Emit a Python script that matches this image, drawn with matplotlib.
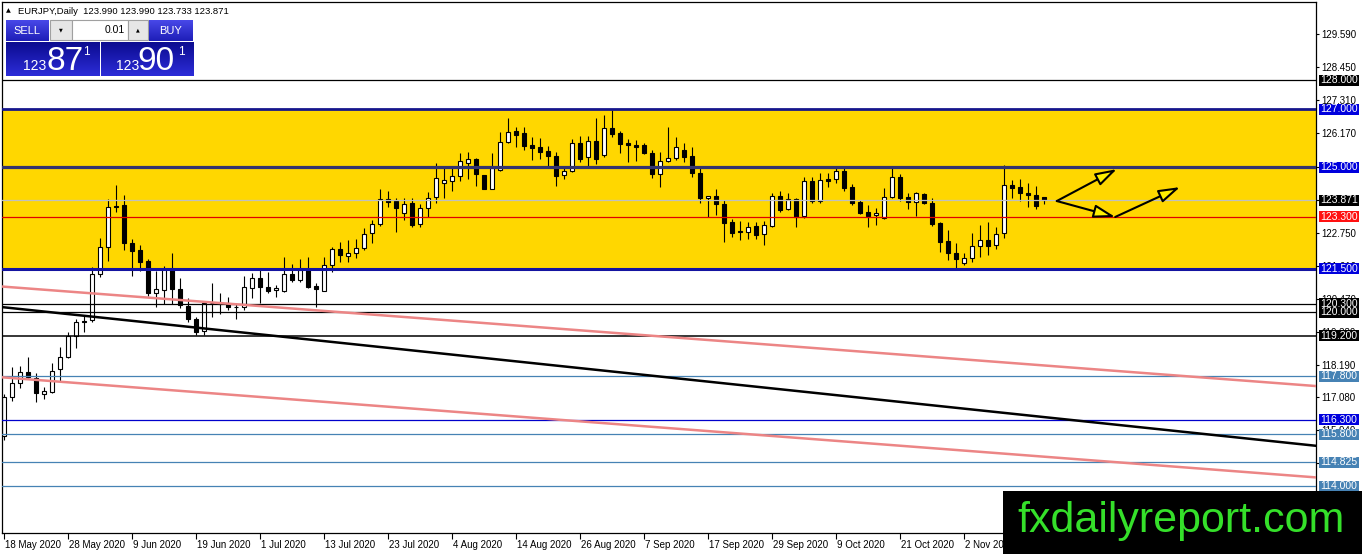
import numpy as np
import matplotlib
matplotlib.use("Agg")
import matplotlib.pyplot as plt
import matplotlib.transforms as mtransforms
from matplotlib.patches import Rectangle
from matplotlib.colors import to_rgb

plt.rcParams["font.family"] = ["Liberation Sans", "DejaVu Sans"]

# ------------------------------------------------------------
# DATA  (EURJPY daily)
# ------------------------------------------------------------
opens = [115.74, 117.08, 117.57, 117.95, 117.74, 117.19, 117.26, 118.05, 118.46, 119.19,
         119.70, 119.74, 121.32, 122.26, 123.67, 123.70, 122.39, 122.15, 121.77, 120.67,
         120.77, 121.50, 120.81, 120.22, 119.77, 119.36, 120.32, 120.29, 120.32, 120.19,
         120.19, 120.84, 121.19, 120.88, 120.77, 120.74, 121.32, 121.12, 121.46, 120.91,
         120.74, 121.63, 122.19, 121.95, 122.05, 122.22, 122.74, 123.05, 123.91, 123.84,
         123.43, 123.77, 123.05, 123.60, 123.98, 124.46, 124.53, 124.70, 125.15, 125.29,
         124.74, 124.26, 124.91, 125.88, 126.26, 126.19, 125.77, 125.70, 125.57, 125.39,
         124.74, 124.88, 125.84, 125.36, 125.91, 125.43, 126.36, 126.19, 125.84, 125.77,
         125.77, 125.50, 124.77, 125.22, 125.32, 125.60, 125.39, 124.81, 123.95, 124.01,
         123.74, 123.12, 122.81, 122.77, 122.98, 122.70, 122.98, 124.01, 123.57, 123.91,
         123.32, 124.53, 123.84, 124.60, 124.60, 124.88, 124.32, 123.81, 123.46, 123.36,
         123.26, 123.98, 124.67, 123.98, 123.81, 124.08, 123.77, 123.08, 122.46, 122.05,
         121.70, 121.88, 122.29, 122.50, 122.32, 122.74, 124.39, 124.32, 124.12, 124.05,
         123.99]
closes = [117.08, 117.57, 117.95, 117.77, 117.22, 117.29, 117.98, 118.46, 119.19, 119.67,
          119.67, 121.32, 122.26, 123.63, 123.63, 122.39, 122.12, 121.74, 120.67, 120.81,
          121.50, 120.81, 120.26, 119.77, 119.32, 120.32, 120.31, 120.28, 120.19, 120.18,
          120.88, 121.19, 120.88, 120.74, 120.84, 121.32, 121.12, 121.46, 120.88, 120.81,
          121.63, 122.19, 121.98, 122.05, 122.22, 122.70, 123.05, 123.91, 123.81, 123.60,
          123.74, 123.01, 123.60, 123.95, 124.63, 124.57, 124.70, 125.22, 125.29, 124.77,
          124.26, 124.98, 125.88, 126.22, 126.12, 125.74, 125.67, 125.53, 125.39, 124.70,
          124.88, 125.84, 125.29, 125.91, 125.29, 126.36, 126.15, 125.81, 125.77, 125.70,
          125.50, 124.77, 125.22, 125.32, 125.70, 125.36, 124.81, 123.95, 124.01, 123.74,
          123.08, 122.74, 122.77, 122.95, 122.67, 123.01, 124.01, 123.53, 123.91, 123.29,
          124.53, 123.84, 124.57, 124.53, 124.88, 124.29, 123.77, 123.43, 123.32, 123.43,
          123.98, 124.67, 123.95, 123.81, 124.12, 123.77, 123.05, 122.43, 122.05, 121.84,
          121.88, 122.29, 122.50, 122.29, 122.70, 124.39, 124.29, 124.12, 124.05, 123.67,
          123.871]
highs = [117.19, 118.12, 118.15, 118.46, 117.91, 117.43, 118.26, 118.81, 119.32, 119.77,
         119.88, 121.57, 122.57, 123.91, 124.39, 124.05, 122.53, 122.32, 121.84, 121.43,
         121.60, 122.05, 121.19, 120.50, 119.84, 120.36, 121.01, 120.67, 120.53, 120.32,
         121.26, 121.36, 121.46, 121.39, 120.95, 121.91, 121.67, 121.84, 121.91, 121.01,
         121.91, 122.26, 122.43, 122.50, 122.53, 122.91, 123.19, 124.26, 124.19, 123.95,
         123.95, 123.95, 123.74, 124.15, 125.15, 124.98, 124.98, 125.50, 125.53, 125.32,
         124.74, 125.50, 126.22, 126.70, 126.39, 126.39, 126.05, 126.01, 125.74, 125.53,
         125.01, 125.98, 126.08, 126.08, 126.70, 126.81, 126.98, 126.26, 125.98, 125.95,
         125.84, 125.60, 125.53, 126.39, 126.05, 125.84, 125.70, 124.98, 124.01, 124.26,
         123.88, 123.22, 123.15, 123.12, 123.12, 123.15, 124.12, 124.19, 124.12, 123.95,
         124.67, 124.67, 124.81, 124.81, 125.05, 124.98, 124.43, 123.88, 123.70, 123.60,
         124.29, 124.98, 124.77, 124.12, 124.15, 124.12, 123.95, 123.12, 122.84, 122.39,
         122.05, 122.74, 123.01, 123.12, 122.95, 125.08, 124.57, 124.60, 124.46, 124.36,
         123.99]
lows = [115.60, 116.95, 117.39, 117.70, 116.91, 117.01, 117.22, 117.63, 118.43, 118.77,
        119.32, 119.67, 121.22, 121.77, 123.46, 122.15, 121.26, 121.43, 120.57, 120.19,
        120.29, 120.29, 120.15, 119.67, 119.22, 119.22, 119.84, 119.95, 120.08, 119.77,
        120.08, 120.50, 120.32, 120.67, 120.53, 120.70, 121.05, 121.05, 120.84, 120.19,
        120.74, 121.39, 121.74, 121.74, 121.88, 122.15, 122.39, 122.98, 123.63, 122.77,
        123.19, 122.95, 122.95, 123.29, 123.77, 123.95, 124.19, 124.53, 124.60, 124.36,
        124.26, 124.26, 124.88, 125.84, 125.70, 125.60, 125.26, 125.29, 125.01, 124.36,
        124.60, 124.84, 125.19, 125.05, 125.12, 125.36, 126.05, 125.50, 125.19, 125.22,
        125.46, 124.63, 124.32, 125.19, 125.26, 125.19, 124.67, 123.77, 123.29, 123.36,
        122.43, 122.60, 122.50, 122.53, 122.53, 122.32, 122.95, 123.46, 123.53, 122.95,
        123.26, 123.77, 123.77, 124.32, 124.46, 124.19, 123.70, 123.39, 122.95, 123.01,
        123.22, 123.95, 123.84, 123.57, 123.32, 123.74, 122.98, 122.08, 121.81, 121.53,
        121.63, 121.74, 121.91, 121.98, 122.19, 122.57, 123.95, 123.84, 123.63, 123.57,
        123.733]

date_labels = ["18 May 2020", "28 May 2020", "9 Jun 2020", "19 Jun 2020", "1 Jul 2020",
               "13 Jul 2020", "23 Jul 2020", "4 Aug 2020", "14 Aug 2020", "26 Aug 2020",
               "7 Sep 2020", "17 Sep 2020", "29 Sep 2020", "9 Oct 2020", "21 Oct 2020",
               "2 Nov 2020", "12 Nov 2020"]
bars_per_label = 8

price_ticks = [129.59, 128.45, 127.31, 126.17, 125.03, 123.89, 122.75, 121.61,
               120.47, 119.33, 118.19, 117.08, 115.94, 114.80]

# horizontal levels: value, line colour, line width, label colour
levels       = [128.0, 127.0, 125.0, 123.871, 123.3, 121.5, 120.3, 120.0, 119.2,
                117.8, 116.3, 115.8, 114.825, 114.0]
level_colors = ["black", "#16168c", "#34346e", "#c0c0c0", "#e00000", "#1414a0",
                "black", "black", "black", "#4682b4", "#0000cc", "#4682b4", "#4682b4", "#4682b4"]
level_widths = [0.9, 2.0, 2.3, 0.9, 0.9, 2.2, 0.9, 0.9, 1.1, 0.9, 0.9, 0.9, 0.9, 0.9]
label_colors = ["black", "#0000dd", "#0000dd", "black", "#ff1010", "#0000dd",
                "black", "black", "black", "#4682b4", "#0000dd", "#4682b4", "#4682b4", "#4682b4"]

zone_low, zone_high = 121.5, 127.0

# trend lines: (bar, price) endpoints
black_trend = ([-0.16, 164.0], [120.18, 115.40])
pink_upper  = ([-0.16, 164.0], [120.89, 117.46])
pink_lower  = ([-0.16, 164.0], [117.76, 114.31])

# projection arrows: start -> end (bar, price)
arrows = [((131.6, 123.84), (139.1, 124.94)),
          ((131.6, 123.84), (138.9, 123.29)),
          ((138.9, 123.29), (147.0, 124.32))]

header = "EURJPY,Daily  123.990 123.990 123.733 123.871"

# ------------------------------------------------------------
# FIGURE
# ------------------------------------------------------------
W, H = 1362, 554
fig = plt.figure(figsize=(W / 100, H / 100), dpi=100)
fig.patch.set_facecolor("white")

def fx(px):
    return px / W

def fy(py):
    return 1 - py / H

AX_L, AX_T, AX_R, AX_B = 2, 2, 1316, 533
ax = fig.add_axes([fx(AX_L), fy(AX_B), (AX_R - AX_L) / W, (AX_B - AX_T) / H])
ax.set_xlim(-0.25, 164.0)
ax.set_ylim(112.393, 130.703)
y_per_px = (130.703 - 112.393) / (AX_B - AX_T)
axw = AX_R - AX_L

o = np.array(opens); c = np.array(closes)
h = np.array(highs); l = np.array(lows)
x = np.arange(len(o))
up = c > o

ax.axhspan(zone_low, zone_high, color="#ffd700", zorder=0, lw=0)

ax.vlines(x, l, h, color="black", lw=0.8, zorder=2)
body_h = np.maximum(np.abs(c - o), 0.004)
ax.bar(x, body_h, bottom=np.minimum(o, c), width=0.56,
       color=np.where(up, "white", "black"), edgecolor="black", linewidth=0.8, zorder=2.5)

for lvl, col, lw in zip(levels, level_colors, level_widths):
    ax.axhline(lvl, color=col, lw=lw, zorder=3)

ax.plot(*pink_upper, color="#ec8585", lw=1.8, zorder=3.2)
ax.plot(*pink_lower, color="#ec8585", lw=1.8, zorder=3.2)
ax.plot(*black_trend, color="black", lw=1.8, zorder=3.3)

for start, end in arrows:
    ax.annotate("", xy=end, xytext=start,
                arrowprops=dict(arrowstyle="-|>,head_length=1.3,head_width=0.4",
                                facecolor="#fff000", edgecolor="black", linewidth=1.5,
                                shrinkA=0, shrinkB=0), zorder=4)

# right price axis
ax.yaxis.tick_right()
ax.set_yticks(price_ticks)
ax.set_yticklabels([f"{t:.3f}" for t in price_ticks])
ax.tick_params(axis="y", length=2.2, width=0.8, pad=1.4, labelsize=7, colors="black")

# level price tags drawn over the axis labels
blend = mtransforms.blended_transform_factory(ax.transAxes, ax.transData)
for lvl, col in zip(levels, label_colors):
    ax.add_patch(Rectangle((1 + 2.5 / axw, lvl - 5.5 * y_per_px), 40 / axw, 11 * y_per_px,
                           transform=blend, fc=col, ec="none", clip_on=False, zorder=9))
    ax.text(1 + 4 / axw, lvl, f"{lvl:.3f}", transform=blend, ha="left", va="center",
            fontsize=7.5, color="white", clip_on=False, zorder=10)

# date axis
ax.set_xticks(np.arange(len(date_labels)) * bars_per_label)
ax.set_xticklabels(date_labels)
ax.tick_params(axis="x", length=4, width=0.8, pad=1, labelsize=7)
shift = mtransforms.ScaledTranslation(1 / 100, 0, fig.dpi_scale_trans)
for lab in ax.get_xticklabels():
    lab.set_ha("left")
    lab.set_transform(lab.get_transform() + shift)

for sp in ax.spines.values():
    sp.set_linewidth(0.9)
    sp.set_color("black")

# ------------------------------------------------------------
# TOP-LEFT HEADER + ONE-CLICK TRADING PANEL
# ------------------------------------------------------------
fig.text(fx(6), fy(11), "▲", fontsize=4.5, va="center", zorder=10,
         family=["DejaVu Sans"])
fig.text(fx(18), fy(11), header, fontsize=6.8, va="center", zorder=10)

def grad_box(x0, y0, x1, y1, top, bottom):
    a = fig.add_axes([fx(x0), fy(y1), (x1 - x0) / W, (y1 - y0) / H], zorder=6)
    t = np.array(to_rgb(top)); b = np.array(to_rgb(bottom))
    g = np.linspace(0, 1, 40)[:, None, None]
    a.imshow(t * (1 - g) + b * g, aspect="auto", extent=(0, 1, 0, 1), origin="upper")
    a.set_axis_off()
    return a

def flat_box(x0, y0, x1, y1, fc, ec):
    fig.add_artist(Rectangle((fx(x0), fy(y1)), (x1 - x0) / W, (y1 - y0) / H,
                             transform=fig.transFigure, fc=fc, ec=ec, lw=0.8, zorder=6))

grad_box(6, 20, 48, 41, "#4848e8", "#1e1eb8")
grad_box(149, 20, 193, 41, "#4848e8", "#1e1eb8")
grad_box(6, 42, 99, 76, "#0c0c90", "#2c2cd8")
grad_box(101, 42, 193, 76, "#0c0c90", "#2c2cd8")
flat_box(50, 20, 72, 40, "#e6e6e6", "#a0a0a0")
flat_box(72, 20, 128, 40, "white", "#a0a0a0")
flat_box(128, 20, 148, 40, "#e6e6e6", "#a0a0a0")

fig.text(fx(27), fy(30.5), "SELL", color="white", fontsize=8, ha="center", va="center", zorder=10)
fig.text(fx(171), fy(30.5), "BUY", color="white", fontsize=8, ha="center", va="center", zorder=10)
fig.text(fx(61), fy(30), "▼", fontsize=3.5, ha="center", va="center", zorder=10, family=["DejaVu Sans"])
fig.text(fx(138), fy(30), "▲", fontsize=3.5, ha="center", va="center", zorder=10, family=["DejaVu Sans"])
fig.text(fx(125), fy(30), "0.01", fontsize=7.5, ha="right", va="center", zorder=10)

for big, xs in (("87", (23, 47, 83)), ("90", (116, 137, 178))):
    fig.text(fx(xs[0]), fy(70), "123", color="white", fontsize=10, va="baseline", zorder=10)
    fig.text(fx(xs[1]), fy(70), big, color="white", fontsize=24, va="baseline", zorder=10)
    fig.text(fx(xs[2]), fy(55), "1", color="white", fontsize=8.5, va="baseline", zorder=10)

# ------------------------------------------------------------
# WATERMARK
# ------------------------------------------------------------
fig.add_artist(Rectangle((fx(1003), 0), (W - 1003) / W, (H - 491) / H,
                         transform=fig.transFigure, fc="black", ec="none", zorder=20))
fig.text(fx(1181), fy(521), "fxdailyreport.com", color="#35e02a", fontsize=31,
         ha="center", va="center", zorder=21)

fig.savefig("out.png", dpi=100)
